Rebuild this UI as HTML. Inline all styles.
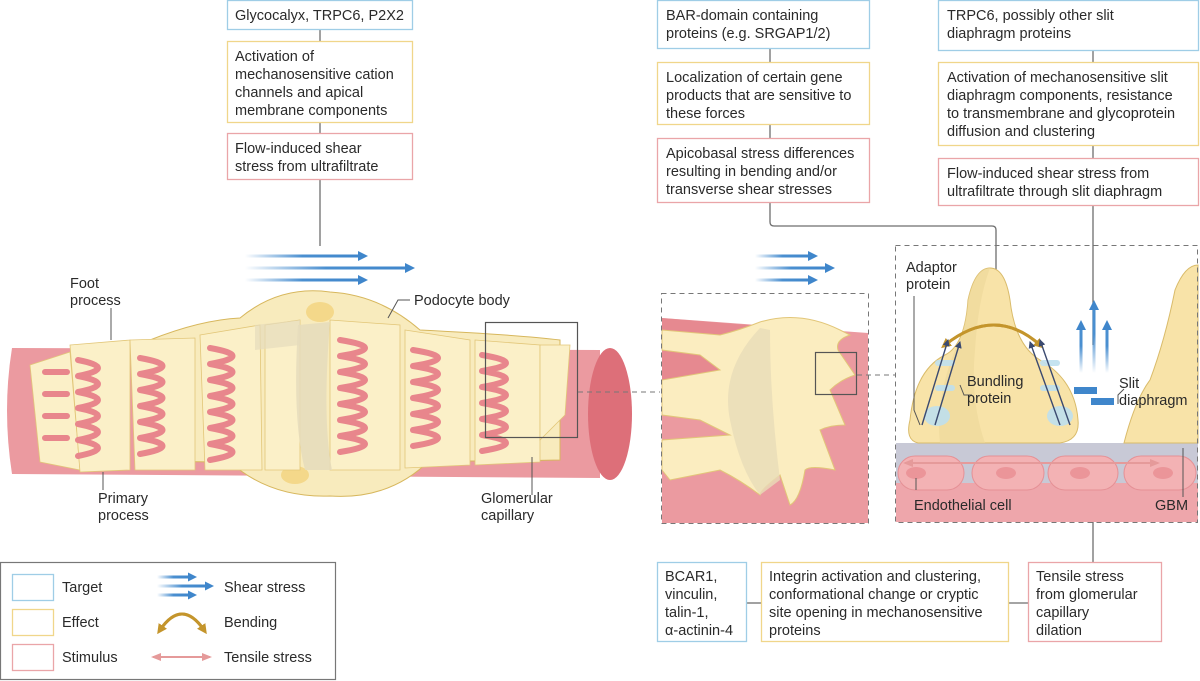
<!DOCTYPE html>
<html><head><meta charset="utf-8"><style>
html,body{margin:0;padding:0;background:#fff}
svg{display:block}
text{font-family:"Liberation Sans",sans-serif;font-size:14.5px;fill:#2a2a2a}
</style></head><body>
<svg width="1200" height="681" viewBox="0 0 1200 681" xmlns="http://www.w3.org/2000/svg">
<defs>
<linearGradient id="sh" x1="0" x2="1" y1="0" y2="0"><stop offset="0" stop-color="#4a8fd0" stop-opacity="0"/><stop offset="0.5" stop-color="#4a8fd0"/><stop offset="1" stop-color="#3f86cb"/></linearGradient>
<linearGradient id="shv" x1="0" y1="1" x2="0" y2="0"><stop offset="0" stop-color="#4a8fd0" stop-opacity="0"/><stop offset="0.6" stop-color="#4a8fd0"/></linearGradient>
<marker id="ay" markerWidth="10" markerHeight="10" refX="5" refY="5" orient="auto" markerUnits="userSpaceOnUse"><path d="M0,0 L10,5 L0,10 Z" fill="#c4952c"/></marker>
<marker id="ap" markerWidth="10" markerHeight="8" refX="8" refY="4" orient="auto-start-reverse" markerUnits="userSpaceOnUse"><path d="M0,0 L10,4 L0,8 Z" fill="#e59a9a"/></marker>
<marker id="an" markerWidth="7" markerHeight="7" refX="6" refY="3.5" orient="auto" markerUnits="userSpaceOnUse"><path d="M0,0 L7,3.5 L0,7 Z" fill="#3b4a70"/></marker>
</defs>

<g stroke="#6e6e6e" stroke-width="1.3" fill="none">
<line x1="320" y1="29" x2="320" y2="41"/><line x1="320" y1="122" x2="320" y2="133"/><line x1="320" y1="179" x2="320" y2="246"/>
<line x1="770" y1="48" x2="770" y2="62"/><line x1="770" y1="124" x2="770" y2="138"/>
<path d="M770,202 V222 Q770,226 774,226 H992 Q996,226 996,230 V292"/>
<line x1="1093" y1="50" x2="1093" y2="62"/><line x1="1093" y1="145" x2="1093" y2="158"/><line x1="1093" y1="205" x2="1093" y2="345"/>
<line x1="1093" y1="450" x2="1093" y2="562"/>
<line x1="746" y1="603" x2="761" y2="603"/><line x1="1008" y1="603" x2="1028" y2="603"/>
</g>

<rect x="227.5" y="0.5" width="185" height="29" fill="#fff" stroke="#9fcde6" stroke-width="1.3"/>
<text x="235" y="20">Glycocalyx, TRPC6, P2X2</text>
<rect x="227.5" y="41.5" width="185" height="81" fill="#fff" stroke="#f0d68a" stroke-width="1.3"/>
<text x="235" y="61">Activation of</text><text x="235" y="79">mechanosensitive cation</text><text x="235" y="97">channels and apical</text><text x="235" y="115">membrane components</text>
<rect x="227.5" y="133.5" width="185" height="46" fill="#fff" stroke="#eaa5a8" stroke-width="1.3"/>
<text x="235" y="153">Flow-induced shear</text><text x="235" y="171">stress from ultrafiltrate</text>

<rect x="657.5" y="0.5" width="212" height="48" fill="#fff" stroke="#9fcde6" stroke-width="1.3"/>
<text x="666" y="20">BAR-domain containing</text><text x="666" y="38">proteins (e.g. SRGAP1/2)</text>
<rect x="657.5" y="62.5" width="212" height="62" fill="#fff" stroke="#f0d68a" stroke-width="1.3"/>
<text x="666" y="82">Localization of certain gene</text><text x="666" y="100">products that are sensitive to</text><text x="666" y="118">these forces</text>
<rect x="657.5" y="138.5" width="212" height="64" fill="#fff" stroke="#eaa5a8" stroke-width="1.3"/>
<text x="666" y="158">Apicobasal stress differences</text><text x="666" y="176">resulting in bending and/or</text><text x="666" y="194">transverse shear stresses</text>

<rect x="938.5" y="0.5" width="260" height="50" fill="#fff" stroke="#9fcde6" stroke-width="1.3"/>
<text x="947" y="20">TRPC6, possibly other slit</text><text x="947" y="38">diaphragm proteins</text>
<rect x="938.5" y="62.5" width="260" height="83" fill="#fff" stroke="#f0d68a" stroke-width="1.3"/>
<text x="947" y="82">Activation of mechanosensitive slit</text><text x="947" y="100">diaphragm components, resistance</text><text x="947" y="118">to transmembrane and glycoprotein</text><text x="947" y="136">diffusion and clustering</text>
<rect x="938.5" y="158.5" width="260" height="47" fill="#fff" stroke="#eaa5a8" stroke-width="1.3"/>
<text x="947" y="178">Flow-induced shear stress from</text><text x="947" y="196">ultrafiltrate through slit diaphragm</text>

<g fill="url(#sh)">
<rect x="245" y="254.5" width="115" height="3"/><rect x="245" y="266.5" width="162" height="3"/><rect x="245" y="278.5" width="115" height="3"/>
<rect x="755" y="254.5" width="55" height="3"/><rect x="755" y="266.5" width="72" height="3"/><rect x="755" y="278.5" width="55" height="3"/>
<rect x="157" y="575.5" width="33" height="3"/><rect x="157" y="584.5" width="50" height="3"/><rect x="157" y="593.5" width="33" height="3"/>
</g>
<g fill="#3f86cb">
<path d="M358,251 L368,256 L358,261Z"/><path d="M405,263 L415,268 L405,273Z"/><path d="M358,275 L368,280 L358,285Z"/>
<path d="M808,251 L818,256 L808,261Z"/><path d="M825,263 L835,268 L825,273Z"/><path d="M808,275 L818,280 L808,285Z"/>
<path d="M188,572.5 L197,577 L188,581.5Z"/><path d="M205,581.5 L214,586 L205,590.5Z"/><path d="M188,590.5 L197,595 L188,599.5Z"/>
</g>

<path d="M12,348 L600,350 L600,478 L12,474 Q2,410 12,348 Z" fill="#eb9aa0"/>
<ellipse cx="610" cy="414" rx="22" ry="66" fill="#dd6f79"/>
<path d="M150,340 Q200,320 240,318 Q280,285 330,292 Q380,295 420,330 Q520,335 560,340 L560,460 Q470,462 430,460 Q390,500 330,496 Q270,498 230,462 Q180,462 150,460 Z" fill="#f8ebbd" stroke="#d7b75d" stroke-width="1"/>
<ellipse cx="320" cy="312" rx="14" ry="10" fill="#f4d88a"/>
<ellipse cx="295" cy="475" rx="14" ry="9" fill="#f4d88a"/>
<g fill="#fbf0c8" stroke="#e2c678" stroke-width="0.8">
<path d="M30,365 L70,352 L80,470 L40,462 Z"/>
<path d="M70,345 L130,340 L130,470 L80,472 Z"/>
<path d="M130,340 L195,338 L195,470 L135,470 Z"/>
<path d="M200,335 L260,325 L262,470 L205,470 Z"/>
<path d="M265,325 L300,320 L300,470 L265,470 Z"/>
<path d="M330,320 L400,325 L400,470 L330,470 Z"/>
<path d="M405,330 L470,340 L470,465 L405,468 Z"/>
<path d="M475,340 L540,345 L540,462 L475,465 Z"/>
<path d="M540,345 L570,345 L565,415 L540,440 Z"/>
</g>
<g fill="none" stroke="#e8868c" stroke-width="6" stroke-linecap="round" stroke-linejoin="round">
<path d="M45,372 h22 M45,394 h22 M45,416 h22 M45,438 h22"/>
<path d="M78,360 q40,8 0,16 q40,8 0,16 q40,8 0,16 q40,8 0,16 q40,8 0,16 q40,8 0,16"/>
<path d="M140,358 q45,8 0,16 q45,8 0,16 q45,8 0,16 q45,8 0,16 q45,8 0,16 q45,8 0,16"/>
<path d="M210,348 q45,8 0,16 q45,8 0,16 q45,8 0,16 q45,8 0,16 q45,8 0,16 q45,8 0,16 q45,8 0,16"/>
<path d="M340,340 q50,8 0,16 q50,8 0,16 q50,8 0,16 q50,8 0,16 q50,8 0,16 q50,8 0,16 q50,8 0,16"/>
<path d="M413,350 q50,8 0,16 q50,8 0,16 q50,8 0,16 q50,8 0,16 q50,8 0,16 q50,8 0,16"/>
<path d="M482,355 q48,8 0,16 q48,8 0,16 q48,8 0,16 q48,8 0,16 q48,8 0,16 q48,8 0,16"/>
</g>
<path d="M298,325 Q292,420 305,470 L332,470 Q322,420 330,322 Z" fill="#e5dcbc" opacity="0.85"/>
<path d="M255,325 L300,320 L300,345 L255,350 Z" fill="#e5dcbc" opacity="0.7"/>
<rect x="485.5" y="322.5" width="92" height="115" fill="none" stroke="#555" stroke-width="1.2"/>
<line x1="578" y1="392" x2="660" y2="392" stroke="#777" stroke-dasharray="5,4"/>
<g stroke="#555" stroke-width="1" fill="none">
<line x1="111" y1="308" x2="111" y2="340"/><line x1="103" y1="472" x2="103" y2="490"/>
<path d="M410,300 H398 L388,318"/><line x1="532" y1="457" x2="532" y2="495"/>
</g>
<text x="70" y="288">Foot</text><text x="70" y="305">process</text>
<text x="98" y="503">Primary</text><text x="98" y="520">process</text>
<text x="414" y="305">Podocyte body</text>
<text x="481" y="503">Glomerular</text><text x="481" y="520">capillary</text>

<path d="M662,318 L868,333 L868,523 L662,523 Z" fill="#eb9aa0"/>
<path d="M662,318 L760,326 L720,380 L662,400 Z" fill="#e37e86" opacity="0.6"/>
<path d="M760,322 Q800,310 840,330 L850,335 Q835,340 838,350 L855,375 Q840,380 830,390 L845,425 Q830,425 820,430 L835,470 Q810,465 805,470 Q800,500 790,505 L780,475 Q760,490 760,495 Q740,480 720,470 L670,480 L662,470 L662,440 L730,435 L700,420 L662,415 L662,380 L720,370 L700,355 L662,350 L662,330 L720,335 Q740,330 760,322 Z" fill="#fbedc0" stroke="#e2c678" stroke-width="1"/>
<path d="M770,330 Q770,400 780,480 L760,495 Q740,470 730,420 Q720,370 760,328 Z" fill="#e8dcb8" opacity="0.8"/>
<rect x="661.5" y="293.5" width="207" height="230" fill="none" stroke="#777" stroke-dasharray="5,4"/>
<rect x="815.5" y="352.5" width="41" height="42" fill="none" stroke="#555" stroke-width="1.2"/>
<line x1="857" y1="375" x2="895" y2="375" stroke="#777" stroke-dasharray="5,4"/>

<path d="M896,443 H1198 V522 H896 Z" fill="#eea6ab"/>
<rect x="896" y="443" width="302" height="40" fill="#c8c9d6"/>
<g fill="#f3b2b4" stroke="#e59095" stroke-width="1">
<rect x="898" y="456" width="66" height="34" rx="17"/><rect x="972" y="456" width="72" height="34" rx="17"/><rect x="1048" y="456" width="70" height="34" rx="17"/><rect x="1124" y="456" width="72" height="34" rx="17"/>
</g>
<g fill="#eb9599"><ellipse cx="916" cy="473" rx="10" ry="6"/><ellipse cx="1006" cy="473" rx="10" ry="6"/><ellipse cx="1080" cy="473" rx="10" ry="6"/><ellipse cx="1163" cy="473" rx="10" ry="6"/></g>
<path d="M910,420 Q915,370 945,355 Q965,345 968,300 Q975,268 990,268 Q1005,268 1010,300 Q1015,345 1040,360 Q1075,380 1078,420 Q1080,440 1060,443 H918 Q905,440 910,420 Z" fill="#f8e3a8" stroke="#d9bb6a" stroke-width="1"/>
<path d="M1124,443 Q1135,400 1150,380 Q1165,340 1175,290 Q1185,265 1198,265 V443 Z" fill="#f8e3a8" stroke="#d9bb6a" stroke-width="1"/>
<path d="M968,300 Q975,268 990,268 Q978,300 975,350 Q970,400 985,443 H940 Q935,400 955,350 Q966,330 968,300 Z" fill="#ecd79a" opacity="0.6"/>
<path d="M945,345 Q995,305 1040,345" stroke="#c4952c" stroke-width="3" fill="none" marker-end="url(#ay)"/>
<path d="M1040,345 Q995,305 945,345" stroke="#c4952c" stroke-width="3" fill="none" marker-end="url(#ay)"/>
<g fill="#bfe0ee" opacity="0.9"><ellipse cx="937" cy="416" rx="13" ry="10"/><ellipse cx="1060" cy="416" rx="13" ry="10"/>
<rect x="935" y="360" width="20" height="6" rx="3"/><rect x="935" y="385" width="20" height="6" rx="3"/><rect x="1040" y="360" width="20" height="6" rx="3"/><rect x="1040" y="385" width="20" height="6" rx="3"/></g>
<g stroke="#3b4a70" stroke-width="1.4"><line x1="922" y1="425" x2="948" y2="340" marker-end="url(#an)"/><line x1="935" y1="425" x2="960" y2="342" marker-end="url(#an)"/>
<line x1="1070" y1="425" x2="1040" y2="340" marker-end="url(#an)"/><line x1="1060" y1="425" x2="1030" y2="342" marker-end="url(#an)"/></g>
<g fill="url(#shv)"><rect x="1079.5" y="328" width="3" height="45"/><rect x="1092.5" y="308" width="3" height="65"/><rect x="1105.5" y="328" width="3" height="45"/></g>
<g fill="#3f86cb"><path d="M1076,330 L1081,320 L1086,330Z"/><path d="M1089,310 L1094,300 L1099,310Z"/><path d="M1102,330 L1107,320 L1112,330Z"/></g>
<rect x="1074" y="387" width="23" height="7" fill="#3f86cb"/><rect x="1091" y="398" width="23" height="7" fill="#3f86cb"/>
<line x1="905" y1="463" x2="1158" y2="463" stroke="#e59a9a" stroke-width="2" marker-start="url(#ap)" marker-end="url(#ap)"/>
<rect x="895.5" y="245.5" width="302" height="277" fill="none" stroke="#777" stroke-dasharray="5,4"/>
<g stroke="#555" stroke-width="1" fill="none">
<path d="M914,296 V410 L920,425"/><path d="M960,385 L964,395 H972"/><path d="M1118,404 V395 L1124,389"/>
<line x1="916" y1="478" x2="916" y2="490"/><line x1="1183" y1="448" x2="1183" y2="497"/>
</g>
<text x="906" y="272">Adaptor</text><text x="906" y="289">protein</text>
<text x="967" y="386">Bundling</text><text x="967" y="403">protein</text>
<text x="1119" y="388">Slit</text><text x="1119" y="405">diaphragm</text>
<text x="914" y="510">Endothelial cell</text>
<text x="1155" y="510">GBM</text>

<rect x="657.5" y="562.5" width="89" height="79" fill="#fff" stroke="#9fcde6" stroke-width="1.3"/>
<text x="665" y="581">BCAR1,</text><text x="665" y="599">vinculin,</text><text x="665" y="617">talin-1,</text><text x="665" y="635">α-actinin-4</text>
<rect x="761.5" y="562.5" width="247" height="79" fill="#fff" stroke="#f0d68a" stroke-width="1.3"/>
<text x="769" y="581">Integrin activation and clustering,</text><text x="769" y="599">conformational change or cryptic</text><text x="769" y="617">site opening in mechanosensitive</text><text x="769" y="635">proteins</text>
<rect x="1028.5" y="562.5" width="133" height="79" fill="#fff" stroke="#eaa5a8" stroke-width="1.3"/>
<text x="1036" y="581">Tensile stress</text><text x="1036" y="599">from glomerular</text><text x="1036" y="617">capillary</text><text x="1036" y="635">dilation</text>

<rect x="0.5" y="562.5" width="335" height="117" fill="none" stroke="#777" stroke-width="1.2"/>
<rect x="12.5" y="574.5" width="41" height="26" fill="none" stroke="#9fcde6" stroke-width="1.3"/>
<rect x="12.5" y="609.5" width="41" height="26" fill="none" stroke="#f0d68a" stroke-width="1.3"/>
<rect x="12.5" y="644.5" width="41" height="26" fill="none" stroke="#eaa5a8" stroke-width="1.3"/>
<text x="62" y="592">Target</text><text x="62" y="627">Effect</text><text x="62" y="662">Stimulus</text>
<path d="M160,630 Q182,598 204,630" stroke="#c4952c" stroke-width="3" fill="none" marker-end="url(#ay)"/>
<path d="M204,630 Q182,598 160,630" stroke="#c4952c" stroke-width="3" fill="none" marker-end="url(#ay)"/>
<line x1="153" y1="657" x2="210" y2="657" stroke="#e59a9a" stroke-width="2" marker-start="url(#ap)" marker-end="url(#ap)"/>
<text x="224" y="592">Shear stress</text><text x="224" y="627">Bending</text><text x="224" y="662">Tensile stress</text>
</svg>
</body></html>
